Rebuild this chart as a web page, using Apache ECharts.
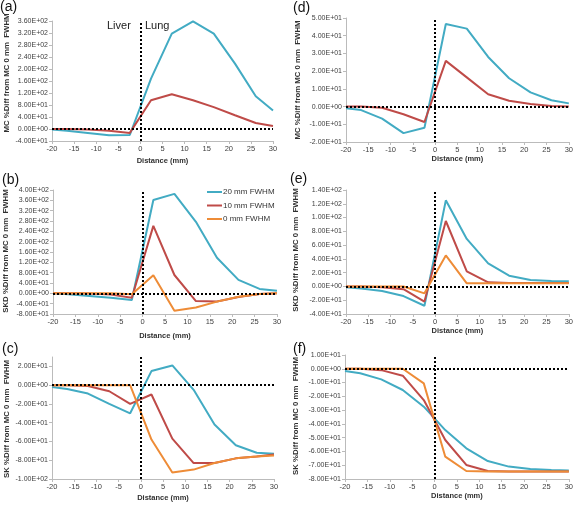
<!DOCTYPE html>
<html><head><meta charset="utf-8">
<script src="https://cdn.jsdelivr.net/npm/echarts@6/dist/echarts.min.js"></script>
<style>html,body{margin:0;padding:0;background:#fff}#c{width:576px;height:505px}</style>
</head><body><div id="c"></div>
<script>
const distance = [-20, -16.6, -11.9, -7.1, -2.4, 2.4, 7.1, 11.9, 16.6, 21.4, 26.1, 30];
const seriesNames = ['20 mm FWHM', '10 mm FWHM', '0 mm FWHM'];
const panelLabels = ['(a)', '(b)', '(c)', '(d)', '(e)', '(f)'];
const yTitles = ['MC %Diff from MC 0 mm  FWHM', 'SKD %Diff from MC 0 mm  FWHM', 'SK %Diff from MC 0 mm  FWHM',
                 'MC %Diff from MC 0 mm  FWHM', 'SKD %Diff from MC 0 mm  FWHM', 'SK %Diff from MC 0 mm  FWHM'];
const xTitle = 'Distance (mm)';
const xRange = [-20, 30, 5];
// y ranges [min, max, interval]
const yRangeA = [-40, 360, 40];
const yRangeB = [-80, 400, 40];
const yRangeC = [-100, 30, 20];
const yRangeD = [-20, 50, 10];
const yRangeE = [-40, 140, 20];
const yRangeF = [-80, 10, 10];
// (a) MC
const a20 = [-2, -6, -13, -21, -20, 168, 318, 359, 318, 218, 109, 62];
const a10 = [0, 0, -2, -6, -13, 96, 116, 96, 73, 46, 20, 10];
// (b) SKD
const b20 = [0, -4, -10, -17, -26, 361, 385, 277, 138, 52, 17, 10];
const b10 = [0, 0, -1, -5, -17, 261, 71, -30, -32, -14, -3, 0];
const b0 = [0, 0, 0, 0, -4, 70, -67, -55, -32, -13, -3, 0];
// (c) SK
const c20 = [-2, -4, -9, -20, -30, 15, 21, -5, -42, -64, -72, -73];
const c10 = [0, 0, -1, -6.5, -20, -10, -57, -83, -83, -78, -76, -74];
const c0 = [0, 0, 0, 0, 0, -58, -93, -90, -83, -78, -76, -75];
// (d) MC
const d20 = [-1, -2, -6.8, -15, -12, 46.6, 44, 28, 16, 8, 3.6, 1.8];
const d10 = [0, 0, -0.7, -4.3, -8.7, 25.8, 16.5, 7, 3.3, 1.4, 0.3, 0];
// (e) SKD
const e20 = [-1, -3, -6.6, -14, -28, 125, 69, 33.5, 15.6, 9.3, 8, 7.4];
const e10 = [0, 0, -1, -4, -22, 95, 22, 6, 5, 5, 5, 5];
const e0 = [0, 0, 0, 0, -10, 45, 4.5, 4.5, 4.5, 4.5, 4.5, 4.5];
// (f) SK
const f20 = [-1.6, -3.3, -7.7, -15.4, -27.5, -44.5, -57.7, -67, -71, -72.8, -73.5, -73.8];
const f10 = [0, 0, -1, -5, -22.7, -51.7, -69.8, -74.2, -74.5, -74.5, -74.5, -74.5];
const f0 = [0, 0, 0, 0, -10.6, -63.8, -74.2, -74.5, -74.5, -74.5, -74.5, -74.5];

const colors = ['#42ABC3', '#BF4B48', '#EE8C37'];
const FONT = 'Liberation Sans, Arial, sans-serif';

function sci(v) {
  if (v === 0) return '0.00E+00';
  let e = Math.floor(Math.log10(Math.abs(v) + 1e-12));
  let m = v / Math.pow(10, e);
  if (Math.abs(Math.round(m * 100) / 100) >= 10) { e += 1; m = v / Math.pow(10, e); }
  return m.toFixed(2) + 'E' + (e < 0 ? '-' : '+') + String(Math.abs(e)).padStart(2, '0');
}
const zip = arr => arr.map((v, i) => [distance[i], v]);

const layout = [
  { grid: [52, 21, 221, 120], nameGap: 16, yt: [7, 73], pl: [0, 0] },
  { grid: [53, 190, 224, 124], nameGap: 18, yt: [6, 251], pl: [2, 173] },
  { grid: [52, 357, 222, 122], nameGap: 15, yt: [7, 419], pl: [2, 342] },
  { grid: [346, 18, 224, 124], nameGap: 9, yt: [298, 80], pl: [293, 1] },
  { grid: [346, 190, 223, 124], nameGap: 12, yt: [296, 250], pl: [290, 172] },
  { grid: [345, 355, 225, 124], nameGap: 10, yt: [296, 416], pl: [293, 342] }
];
const yRanges = [yRangeA, yRangeB, yRangeC, yRangeD, yRangeE, yRangeF];
const panelData = [[a20, a10], [b20, b10, b0], [c20, c10, c0], [d20, d10], [e20, e10, e0], [f20, f10, f0]];

const grids = [], xAxes = [], yAxes = [], series = [], graphics = [];
layout.forEach((L, i) => {
  grids.push({ left: L.grid[0], top: L.grid[1], width: L.grid[2], height: L.grid[3] });
  xAxes.push({
    type: 'value', gridIndex: i, min: xRange[0], max: xRange[1], interval: xRange[2],
    axisLine: { onZero: false, lineStyle: { color: '#BBBBBB', width: 1 } },
    axisTick: { show: true, length: 3, lineStyle: { color: '#BBBBBB' } },
    axisLabel: { fontSize: 7.5, color: '#404040', fontFamily: FONT, margin: 4 },
    splitLine: { show: false },
    name: xTitle, nameLocation: 'middle', nameGap: L.nameGap,
    nameTextStyle: { fontSize: 7.5, fontWeight: 'bold', color: '#303030', fontFamily: FONT }
  });
  const yr = yRanges[i];
  yAxes.push({
    type: 'value', gridIndex: i, min: yr[0], max: yr[1], interval: yr[2],
    axisLine: { show: true, onZero: false, lineStyle: { color: '#BBBBBB', width: 1 } },
    axisTick: { show: true, length: 3, lineStyle: { color: '#BBBBBB' } },
    axisLabel: { fontSize: 7, color: '#404040', fontFamily: FONT, margin: 4, formatter: sci, showMaxLabel: i !== 2 },
    splitLine: { show: false }
  });
  panelData[i].forEach((arr, k) => {
    const s = {
      type: 'line', name: seriesNames[k], xAxisIndex: i, yAxisIndex: i,
      data: zip(arr), symbol: 'none', lineStyle: { width: 2, color: colors[k] }, itemStyle: { color: colors[k] },
      z: 2 + k
    };
    if (k === 0) {
      s.markLine = {
        silent: true, symbol: ['none', 'none'], label: { show: false }, z: 10,
        lineStyle: { color: '#000', type: [2, 2], width: 2 },
        data: [{ xAxis: 0 }, { yAxis: 0 }]
      };
    }
    series.push(s);
  });
  graphics.push({
    type: 'text', x: L.yt[0], y: L.yt[1], rotation: Math.PI / 2,
    style: { text: yTitles[i], fontSize: 7.8, fontWeight: 'bold', fill: '#303030', fontFamily: FONT,
      textAlign: 'center', textVerticalAlign: 'middle' }
  });
  graphics.push({
    type: 'text', left: L.pl[0], top: L.pl[1],
    style: { text: panelLabels[i], fontSize: 14, fill: '#111', fontFamily: FONT }
  });
});
graphics.push({ type: 'text', left: 107, top: 20, style: { text: 'Liver', fontSize: 11, fill: '#222', fontFamily: FONT } });
graphics.push({ type: 'text', left: 145, top: 20, style: { text: 'Lung', fontSize: 11, fill: '#222', fontFamily: FONT } });

const chart = echarts.init(document.getElementById('c'), null, { renderer: 'canvas' });
chart.setOption({
  animation: false,
  color: colors,
  grid: grids, xAxis: xAxes, yAxis: yAxes, series: series, graphic: graphics,
  legend: {
    left: 202, top: 183, orient: 'vertical', itemWidth: 15, itemHeight: 2, itemGap: 5.5,
    icon: 'rect', data: seriesNames, selectedMode: false,
    textStyle: { fontSize: 8, color: '#333', fontFamily: FONT, padding: [0, 0, 0, -4] }
  }
});
</script></body></html>
